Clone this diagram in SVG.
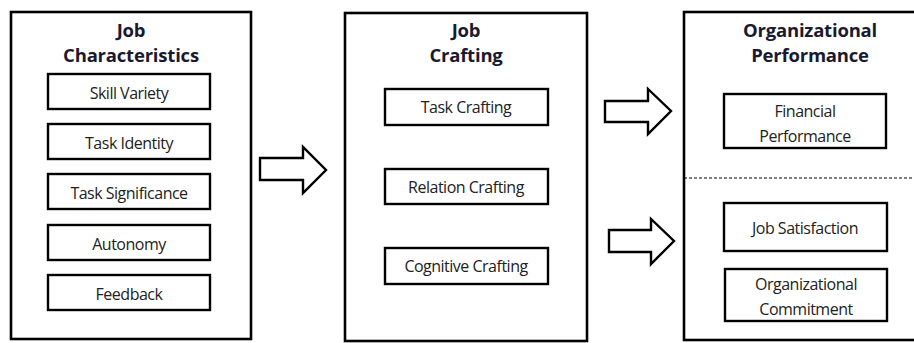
<svg xmlns="http://www.w3.org/2000/svg" width="914" height="343" viewBox="0 0 914 343">
<style>
.outer{fill:#fff;stroke:#000;stroke-width:2.6}
.inner{fill:#fff;stroke:#000;stroke-width:2.4}
.title{font-family:"Open Sans","Noto Sans",sans-serif;font-weight:bold;font-size:18.5px;fill:#1a1a2e;text-anchor:middle;letter-spacing:-0.2px}
.lbl{font-family:"Open Sans","Noto Sans",sans-serif;font-size:16px;fill:#222;text-anchor:middle;letter-spacing:-0.5px}
.arrow{fill:#fff;stroke:#000;stroke-width:2.4;stroke-linejoin:miter}
</style>
<rect width="914" height="343" fill="#fff"/>
<g id="job-characteristics">
<rect class="outer" x="11" y="12" width="240" height="327"/>
<text class="title" x="131" y="37">Job</text>
<text class="title" x="131" y="62">Characteristics</text>
<g id="skill-variety"><rect class="inner" x="48" y="74" width="162" height="35"/><text class="lbl" x="129" y="99">Skill Variety</text></g>
<g id="task-identity"><rect class="inner" x="48" y="124" width="162" height="35"/><text class="lbl" x="129" y="149">Task Identity</text></g>
<g id="task-significance"><rect class="inner" x="48" y="174" width="162" height="35"/><text class="lbl" x="129" y="199">Task Significance</text></g>
<g id="autonomy"><rect class="inner" x="48" y="225" width="162" height="35"/><text class="lbl" x="129" y="250">Autonomy</text></g>
<g id="feedback"><rect class="inner" x="48" y="275" width="162" height="35"/><text class="lbl" x="129" y="300">Feedback</text></g>
</g>
<g id="job-crafting">
<rect class="outer" x="345" y="13" width="242" height="328"/>
<text class="title" x="466" y="37">Job</text>
<text class="title" x="466" y="62">Crafting</text>
<g id="task-crafting"><rect class="inner" x="385" y="89" width="163" height="36"/><text class="lbl" x="466" y="113">Task Crafting</text></g>
<g id="relation-crafting"><rect class="inner" x="385" y="169" width="163" height="35"/><text class="lbl" x="466" y="193">Relation Crafting</text></g>
<g id="cognitive-crafting"><rect class="inner" x="385" y="248" width="163" height="36"/><text class="lbl" x="466" y="272">Cognitive Crafting</text></g>
</g>
<g id="organizational-performance">
<rect class="outer" x="684" y="12" width="250" height="328"/>
<text class="title" x="810" y="37">Organizational</text>
<text class="title" x="810" y="62">Performance</text>
<line x1="684" y1="178" x2="914" y2="178" stroke="#000" stroke-width="1" stroke-dasharray="3 2"/>
<g id="financial-performance"><rect class="inner" x="724" y="94" width="162" height="54"/><text class="lbl" x="805" y="117">Financial</text><text class="lbl" x="805" y="142">Performance</text></g>
<g id="job-satisfaction"><rect class="inner" x="724" y="203" width="163" height="48"/><text class="lbl" x="805" y="234">Job Satisfaction</text></g>
<g id="organizational-commitment"><rect class="inner" x="725" y="269" width="162" height="52"/><text class="lbl" x="806" y="290">Organizational</text><text class="lbl" x="806" y="315">Commitment</text></g>
</g>
<g id="connectors">
<polygon class="arrow" points="260,158 303,158 303,147 326,170 303,193 303,180 260,180"/>
<polygon class="arrow" points="605,101 648,101 648,89 671,111 648,134 648,122 605,122"/>
<polygon class="arrow" points="609,230 651,230 651,219 674,241 651,264 651,252 609,252"/>
</g>
</svg>
